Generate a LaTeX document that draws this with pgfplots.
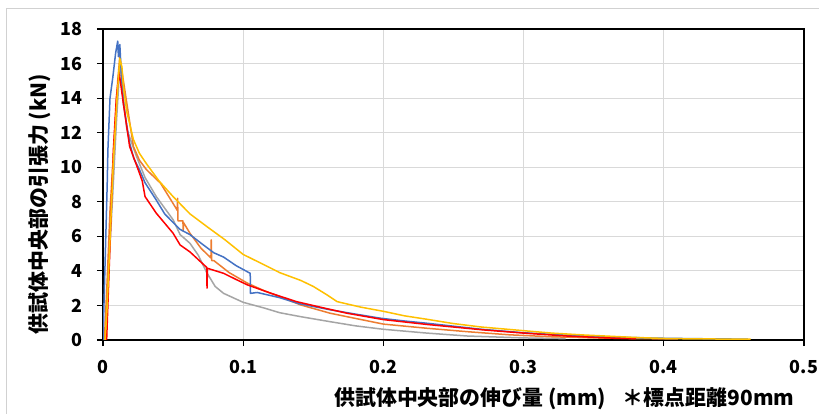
\documentclass[border=0pt]{standalone}
\usepackage{fontspec}
\setmainfont{Noto Sans CJK JP}
\usepackage{pgfplots}
\pgfplotsset{compat=1.18}
\definecolor{cblue}{HTML}{4472C4}
\definecolor{corange}{HTML}{ED7D31}
\definecolor{cgray}{HTML}{A5A5A5}
\definecolor{cyellow}{HTML}{FFC000}
\definecolor{cred}{HTML}{FF0000}
\begin{document}
\begin{tikzpicture}
\useasboundingbox (0,0) rectangle (819bp,414bp);
\fill[white] (0,0) rectangle (819bp,414bp);
\draw[black!18, line width=0.8bp] (6bp,0) -- (6bp,406bp) -- (819bp,406bp);
\begin{axis}[
  at={(103bp,74bp)}, anchor=south west,
  scale only axis, width=701bp, height=311bp,
  xmin=0, xmax=0.5, ymin=0, ymax=18,
  xtick={0,0.1,0.2,0.3,0.4,0.5},
  ytick={0,2,...,18},
  xticklabels={0,0.1,0.2,0.3,0.4,0.5},
  grid=major,
  major grid style={draw=black!15, line width=1.2bp},
  axis line style={black, line width=1.3bp},
  tick align=outside,
  major tick length=6bp,
  tick style={black, line width=1.2bp},
  xtick pos=bottom, ytick pos=left,
  /pgf/number format/assume math mode=true,
  tick label style={font=\bfseries\fontsize{18}{18}\selectfont},
  xticklabel style={yshift=-11bp},
  yticklabel style={xshift=-11bp},
  label style={font=\bfseries\fontsize{21}{21}\selectfont},
  xlabel={供試体中央部の伸び量 (mm)\hspace{0.8em}＊標点距離90mm},
  ylabel={供試体中央部の引張力 (kN)},
  xlabel style={at={(axis description cs:0.658,-0.19)}, anchor=center},
  ylabel style={at={(axis description cs:-0.09,0.437)}, anchor=center},
  every axis plot/.append style={line width=1.5bp, line join=round},
]
% gray
\addplot[cgray, no marks] coordinates {
(0.0015,0) (0.004,4) (0.007,8.5) (0.0095,12.5) (0.0115,15.2) (0.0125,16.0) (0.014,14.5) (0.017,12.2) (0.024,10.6) (0.03,9.4) (0.038,8.3) (0.05,6.96) (0.055,6.1) (0.062,5.6) (0.068,4.9) (0.074,3.9) (0.08,3.1) (0.086,2.7) (0.1,2.18) (0.115,1.85) (0.126,1.58) (0.141,1.35) (0.162,1.06) (0.18,0.82) (0.2,0.62) (0.231,0.4) (0.26,0.23) (0.3,0.12) (0.33,0.08)
};
% orange
\addplot[corange, no marks] coordinates {
(0.001,0) (0.003,3.5) (0.005,7.5) (0.008,11.5) (0.0105,15) (0.012,16.4) (0.014,15.3) (0.017,13.7) (0.0217,11.2) (0.026,10.4) (0.031,9.86) (0.041,9.08) (0.05,7.9) (0.053,7.5) (0.0532,8.2) (0.0535,6.9) (0.057,6.9) (0.0572,6.3) (0.0574,6.8) (0.062,6.18) (0.07,5.3) (0.077,4.75) (0.0772,5.8) (0.0775,4.6) (0.079,4.6) (0.09,3.9) (0.103,3.29) (0.115,2.85) (0.126,2.51) (0.141,2.03) (0.162,1.55) (0.18,1.25) (0.2,0.92) (0.231,0.68) (0.26,0.48) (0.29,0.3) (0.319,0.19) (0.35,0.12) (0.38,0.08) (0.41,0.06)
};
% blue
\addplot[cblue, no marks] coordinates {
(0,0) (0.001,3) (0.002,6) (0.003,9) (0.0035,11) (0.005,14) (0.007,15.2) (0.009,16.6) (0.0105,17.3) (0.011,16.4) (0.012,17.1) (0.013,15.5) (0.0145,13.7) (0.019,11.4) (0.022,10.5) (0.026,9.86) (0.03,9.1) (0.038,8.1) (0.044,7.3) (0.05,6.8) (0.055,6.4) (0.062,6.1) (0.07,5.6) (0.079,5.05) (0.086,4.8) (0.095,4.3) (0.105,3.86) (0.1052,2.7) (0.11,2.75) (0.126,2.45) (0.14,2.1) (0.162,1.75) (0.18,1.5) (0.198,1.26) (0.215,1.1) (0.231,0.97) (0.25,0.8) (0.27,0.62) (0.3,0.42) (0.33,0.28) (0.36,0.17) (0.4,0.1) (0.43,0.07) (0.46,0.05)
};
% red
\addplot[cred, no marks] coordinates {
(0.0026,0) (0.005,5.5) (0.0074,11) (0.0095,14) (0.0115,15.5) (0.0145,13.7) (0.019,11.2) (0.026,9.66) (0.028,9.2) (0.03,8.3) (0.038,7.34) (0.05,6.18) (0.055,5.5) (0.062,5.1) (0.074,4.2) (0.0742,3.0) (0.0745,4.15) (0.086,3.86) (0.095,3.5) (0.103,3.19) (0.12,2.7) (0.138,2.22) (0.155,1.9) (0.174,1.55) (0.2,1.18) (0.231,0.9) (0.272,0.58) (0.3,0.4) (0.331,0.23) (0.36,0.12) (0.38,0.08)
};
% yellow
\addplot[cyellow, no marks] coordinates {
(0.0015,0) (0.003,2) (0.005,5.8) (0.0074,10.4) (0.01,14) (0.012,16.3) (0.0135,15.8) (0.0145,14.7) (0.017,13.2) (0.0217,11.6) (0.026,10.8) (0.031,10.2) (0.04,9.2) (0.05,8.3) (0.062,7.3) (0.074,6.57) (0.087,5.8) (0.1,4.95) (0.115,4.35) (0.126,3.9) (0.141,3.45) (0.15,3.1) (0.16,2.6) (0.167,2.22) (0.176,2.05) (0.184,1.9) (0.2,1.66) (0.215,1.4) (0.231,1.2) (0.25,0.95) (0.27,0.75) (0.3,0.54) (0.32,0.4) (0.343,0.29) (0.379,0.15) (0.403,0.08) (0.43,0.06) (0.462,0.05)
};
\draw[black, line width=1.3bp] (rel axis cs:0,1) -- (rel axis cs:1,1) -- (rel axis cs:1,0);
\end{axis}
\end{tikzpicture}
\end{document}
